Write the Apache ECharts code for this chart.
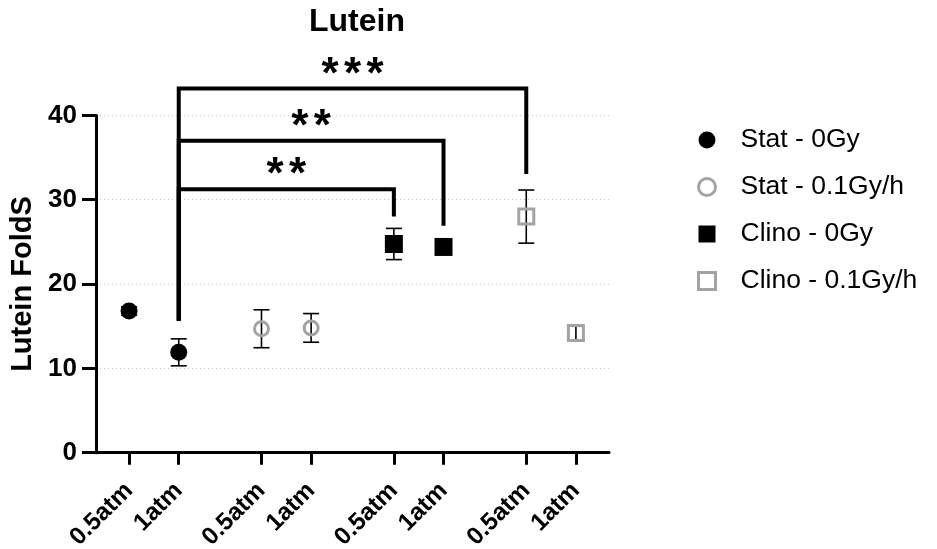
<!DOCTYPE html>
<html><head><meta charset="utf-8">
<script src="https://cdn.jsdelivr.net/npm/echarts@6/dist/echarts.min.js"></script>
<style>html,body{margin:0;padding:0;background:#fff}#c{width:937px;height:549px}</style>
</head><body><div id="c"></div>
<script>
// ---------- data ----------
const chartTitle = 'Lutein';
const yAxisName = 'Lutein FoldS';
const tickLabels = ['0.5atm', '1atm', '0.5atm', '1atm', '0.5atm', '1atm', '0.5atm', '1atm'];
const seriesNames = ['Stat - 0Gy', 'Stat - 0.1Gy/h', 'Clino - 0Gy', 'Clino - 0.1Gy/h'];
// each series occupies two columns (0.5atm, 1atm)
const statZeroMean = [16.8, 11.9];
const statZeroErr = [0.5, 1.6];
const statIrrMean = [14.7, 14.8];
const statIrrErr = [2.25, 1.7];
const clinoZeroMean = [24.75, 24.4];
const clinoZeroErr = [1.85, 0.5];
const clinoIrrMean = [28.0, 14.2];
const clinoIrrErr = [3.15, 0.9];
// significance brackets (column indices and y values)
const bracketFrom = [1, 1, 1];
const bracketTo = [4, 5, 6];
const bracketTop = [31.25, 37.0, 43.2];
const bracketLeftEnd = [15.65, 15.65, 15.65];
const bracketRightEnd = [28.0, 26.9, 33.05];
const bracketText = ['**', '**', '***'];
const yTicks = [0, 10, 20, 30, 40];

// ---------- layout helpers ----------
const FONT = "'Liberation Sans', Arial, Helvetica, sans-serif";
// column -> x position on a value axis (groups of two, spaced apart)
function colX(c) { return 2 + Math.floor(c / 2) * 8 + (c % 2) * 3; }
const colPositions = tickLabels.map((_, i) => colX(i));

const means = [statZeroMean, statIrrMean, clinoZeroMean, clinoIrrMean];
const errs = [statZeroErr, statIrrErr, clinoZeroErr, clinoIrrErr];
const GRAY = '#a3a3a3';
const styles = [
  { symbol: 'circle', symbolSize: 17, itemStyle: { color: '#000', opacity: 1 } },
  { symbol: 'circle', symbolSize: 14, itemStyle: { color: 'transparent', borderColor: GRAY, borderWidth: 3, opacity: 1 } },
  { symbol: 'rect', symbolSize: 18, itemStyle: { color: '#000', opacity: 1 } },
  { symbol: 'rect', symbolSize: 15, itemStyle: { color: 'transparent', borderColor: GRAY, borderWidth: 3, opacity: 1 } }
];

const series = [];
// error bars (drawn under markers)
const errData = [];
means.forEach((m, s) => m.forEach((v, j) => {
  errData.push([colX(s * 2 + j), v - errs[s][j], v + errs[s][j]]);
}));
series.push({
  type: 'custom', name: 'err', z: 2, silent: true,
  data: errData,
  renderItem: function (params, api) {
    const x = api.value(0);
    const lo = api.coord([x, api.value(1)]);
    const hi = api.coord([x, api.value(2)]);
    const w = 8;
    const st = { stroke: '#000', lineWidth: 1.6, fill: null };
    return { type: 'group', children: [
      { type: 'line', shape: { x1: lo[0], y1: lo[1], x2: hi[0], y2: hi[1] }, style: st },
      { type: 'line', shape: { x1: lo[0] - w, y1: lo[1], x2: lo[0] + w, y2: lo[1] }, style: st },
      { type: 'line', shape: { x1: hi[0] - w, y1: hi[1], x2: hi[0] + w, y2: hi[1] }, style: st }
    ] };
  }
});
means.forEach((m, s) => {
  series.push(Object.assign({
    type: 'scatter', name: seriesNames[s], z: 3,
    data: m.map((v, j) => [colX(s * 2 + j), v])
  }, styles[s]));
});
// brackets
const brData = bracketFrom.map((f, i) => [colX(f), colX(bracketTo[i]), bracketTop[i], bracketLeftEnd[i], bracketRightEnd[i], i]);
series.push({
  type: 'custom', name: 'brackets', z: 4, silent: true, clip: false,
  data: brData,
  renderItem: function (params, api) {
    const x1 = api.value(0), x2 = api.value(1), top = api.value(2);
    const a = api.coord([x1, api.value(3)]);
    const b = api.coord([x1, top]);
    const c = api.coord([x2, top]);
    const d = api.coord([x2, api.value(4)]);
    const txt = bracketText[api.value(5)];
    const children = [{
      type: 'polyline', shape: { points: [a, b, c, d] },
      style: { stroke: '#000', lineWidth: 4, fill: null, lineJoin: 'miter', lineCap: 'butt' }
    }];
    const cx = (b[0] + c[0]) / 2;
    const n = txt.length, pitch = 22.5;
    for (let k = 0; k < n; k++) {
      children.push({
        type: 'text',
        style: { text: '*', x: cx + (k - (n - 1) / 2) * pitch, y: b[1] - 13,
          align: 'center', verticalAlign: 'middle', fill: '#000',
          font: 'bold 44px ' + FONT }
      });
    }
    return { type: 'group', children: children };
  }
});

const legendData = seriesNames.map((n, s) => ({
  name: n, icon: styles[s].symbol,
  itemStyle: s === 1 || s === 3
    ? { color: 'transparent', borderColor: GRAY, borderWidth: 3, opacity: 1 }
    : { color: '#000', borderWidth: 0, opacity: 1 }
}));

const option = {
  animation: false,
  backgroundColor: '#fff',
  title: {
    text: chartTitle, left: 352, top: 1, textAlign: 'center',
    textStyle: { fontFamily: FONT, fontWeight: 'bold', fontSize: 32, color: '#000' }
  },
  legend: {
    orient: 'vertical', left: 692, top: 120, itemWidth: 17, itemHeight: 17, itemGap: 17,
    selectedMode: false,
    textStyle: { fontFamily: FONT, fontSize: 26.5, lineHeight: 30, color: '#000', padding: [0, 0, 0, 20] },
    data: legendData
  },
  grid: { left: 96, right: 328, top: 115.4, bottom: 96.3, containLabel: false, outerBoundsMode: 'none' },
  xAxis: {
    type: 'value', min: 0, max: 31,
    axisLine: { show: true, lineStyle: { color: '#000', width: 3 } },
    axisTick: { show: true, customValues: colPositions, length: 12, lineStyle: { color: '#000', width: 3 } },
    axisLabel: {
      customValues: colPositions, rotate: 45, margin: 34,
      fontFamily: FONT, fontWeight: 'bold', fontSize: 24.5, color: '#000',
      formatter: function (v) { const i = colPositions.indexOf(v); return i >= 0 ? tickLabels[i] : ''; }
    },
    splitLine: { show: false }
  },
  yAxis: {
    type: 'value', min: yTicks[0], max: yTicks[yTicks.length - 1], interval: 10,
    name: yAxisName, nameLocation: 'middle', nameGap: 59,
    nameTextStyle: { fontFamily: FONT, fontWeight: 'bold', fontSize: 29, color: '#000' },
    axisLine: { show: true, lineStyle: { color: '#000', width: 3 } },
    axisTick: { show: true, length: 14, lineStyle: { color: '#000', width: 3 } },
    axisLabel: { margin: 19, fontFamily: FONT, fontWeight: 'bold', fontSize: 26, color: '#000' },
    splitLine: { show: true, lineStyle: { color: '#c4c4c4', width: 1, type: [1, 3] } }
  },
  series: series
};
const chart = echarts.init(document.getElementById('c'), null, { renderer: 'canvas' });
chart.setOption(option);
</script>
</body></html>
